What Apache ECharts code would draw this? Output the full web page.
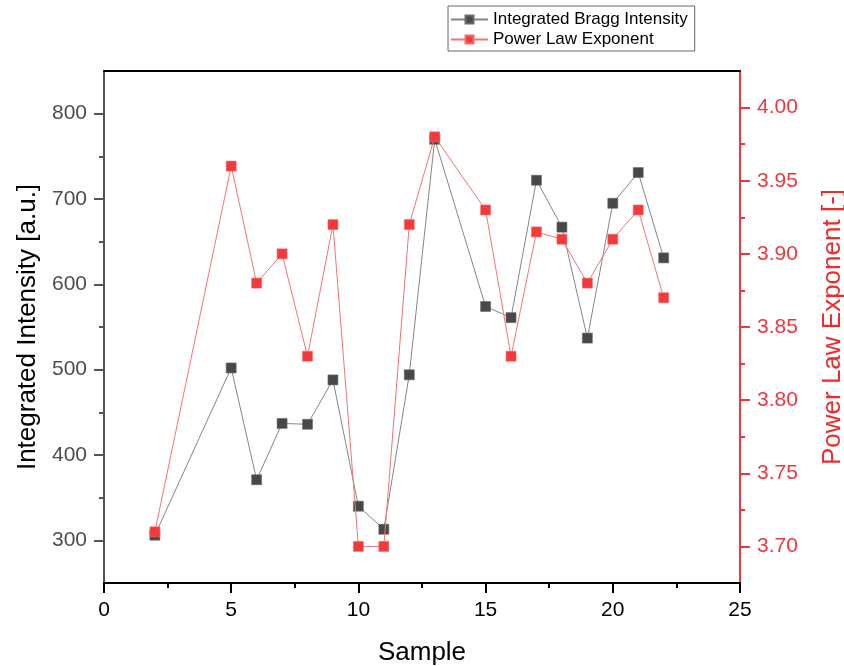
<!DOCTYPE html>
<html>
<head>
<meta charset="utf-8">
<script src="https://cdn.jsdelivr.net/npm/echarts@6/dist/echarts.min.js"></script>
<style>
html,body{margin:0;padding:0;background:#fff;}
#chart{width:844px;height:666px;}
</style>
</head>
<body>
<div id="chart"></div>
<script>
// Data
const samples = [2, 5, 6, 7, 8, 9, 10, 11, 12, 13, 15, 16, 17, 18, 19, 20, 21, 22];
const intensity = [306, 502, 371, 437, 436, 488, 340, 313, 494, 770, 574, 561, 722, 667, 537, 695, 731, 631];
const exponent = [3.71, 3.96, 3.88, 3.90, 3.83, 3.92, 3.70, 3.70, 3.92, 3.98, 3.93, 3.83, 3.915, 3.91, 3.88, 3.91, 3.93, 3.87];
const leftTicks = [300, 400, 500, 600, 700, 800];
const leftMinorTicks = [350, 450, 550, 650, 750];
const rightTicks = [3.70, 3.75, 3.80, 3.85, 3.90, 3.95, 4.00];
const rightMinorTicks = [3.725, 3.775, 3.825, 3.875, 3.925, 3.975];
const seriesNames = ['Integrated Bragg Intensity', 'Power Law Exponent'];

const FONT = 'Liberation Sans, Arial, sans-serif';
const RED = '#f0383c';
const GRAY = '#555555';
const gridBox = {left: 104, right: 104, top: 71, bottom: 83, containLabel: false, outerBoundsMode: 'none'};

const chart = echarts.init(document.getElementById('chart'), null, {renderer: 'canvas'});
chart.setOption({
  animation: false,
  backgroundColor: '#ffffff',
  textStyle: {fontFamily: FONT},
  grid: [Object.assign({}, gridBox), Object.assign({}, gridBox)],
  legend: {
    orient: 'vertical',
    left: 448, top: 6,
    padding: [5, 7, 3, 2],
    itemGap: 3,
    itemWidth: 37, itemHeight: 10,
    borderColor: '#666', borderWidth: 1,
    textStyle: {fontSize: 17, color: '#000', fontFamily: FONT},
    data: seriesNames
  },
  xAxis: [{
    gridIndex: 0, type: 'value', position: 'bottom', min: 0, max: 25, interval: 5,
    name: 'Sample', nameLocation: 'middle', nameGap: 57,
    nameTextStyle: {fontSize: 26, color: '#000', fontFamily: FONT},
    axisLine: {show: true, onZero: false, lineStyle: {color: '#000', width: 2}},
    axisTick: {show: true, inside: false, length: 10, lineStyle: {color: '#000', width: 2}},
    minorTick: {show: true, splitNumber: 2, length: 5, lineStyle: {color: '#000', width: 2}},
    axisLabel: {fontSize: 21, color: '#000', margin: 17, fontFamily: FONT},
    splitLine: {show: false}
  }, {
    gridIndex: 0, type: 'value', position: 'top', min: 0, max: 25,
    axisLine: {show: true, onZero: false, lineStyle: {color: '#000', width: 2}},
    axisTick: {show: false}, axisLabel: {show: false}, splitLine: {show: false}
  }, {
    gridIndex: 1, type: 'value', position: 'bottom', min: 0, max: 25, show: false
  }],
  yAxis: [{
    gridIndex: 0, type: 'value', position: 'left', min: 250, max: 850,
    name: 'Integrated Intensity [a.u.]', nameLocation: 'middle', nameGap: 63,
    nameTextStyle: {fontSize: 26, color: '#000', fontFamily: FONT},
    axisLine: {show: true, onZero: false, lineStyle: {color: GRAY, width: 2}},
    axisTick: {show: true, length: 10, customValues: leftTicks, lineStyle: {color: GRAY, width: 2}},
    axisLabel: {fontSize: 21, color: '#4d4d4d', margin: 17, customValues: leftTicks, fontFamily: FONT},
    splitLine: {show: false}
  }, {
    gridIndex: 0, type: 'value', position: 'right', min: 3.675, max: 4.025,
    name: 'Power Law Exponent [-]', nameLocation: 'middle', nameGap: 80,
    nameTextStyle: {fontSize: 26, color: '#f02a2a', fontFamily: FONT},
    axisLine: {show: true, onZero: false, lineStyle: {color: RED, width: 2}},
    axisTick: {show: true, length: 10, customValues: rightTicks, lineStyle: {color: RED, width: 2}},
    axisLabel: {fontSize: 21, color: RED, margin: 17, customValues: rightTicks, fontFamily: FONT,
      formatter: v => v.toFixed(2)},
    splitLine: {show: false}
  }, {
    gridIndex: 1, type: 'value', position: 'left', min: 250, max: 850,
    axisLine: {show: false},
    axisTick: {show: true, length: 5, customValues: leftMinorTicks, lineStyle: {color: GRAY, width: 2}},
    axisLabel: {show: false}, splitLine: {show: false}
  }, {
    gridIndex: 1, type: 'value', position: 'right', min: 3.675, max: 4.025,
    axisLine: {show: false},
    axisTick: {show: true, length: 5, customValues: rightMinorTicks, lineStyle: {color: RED, width: 2}},
    axisLabel: {show: false}, splitLine: {show: false}
  }],
  series: [{
    name: seriesNames[0], type: 'line', xAxisIndex: 0, yAxisIndex: 0,
    data: samples.map((x, i) => [x, intensity[i]]),
    symbol: 'rect', symbolSize: 10,
    itemStyle: {color: '#484848', borderColor: '#6a6a6a', borderWidth: 0.6},
    lineStyle: {color: '#858585', width: 1},
    z: 3
  }, {
    name: seriesNames[1], type: 'line', xAxisIndex: 0, yAxisIndex: 1,
    data: samples.map((x, i) => [x, exponent[i]]),
    symbol: 'rect', symbolSize: 10,
    itemStyle: {color: '#f23a3c', borderColor: '#f46a6a', borderWidth: 0.6},
    lineStyle: {color: '#f47474', width: 1},
    z: 4
  }]
});
</script>
</body>
</html>
